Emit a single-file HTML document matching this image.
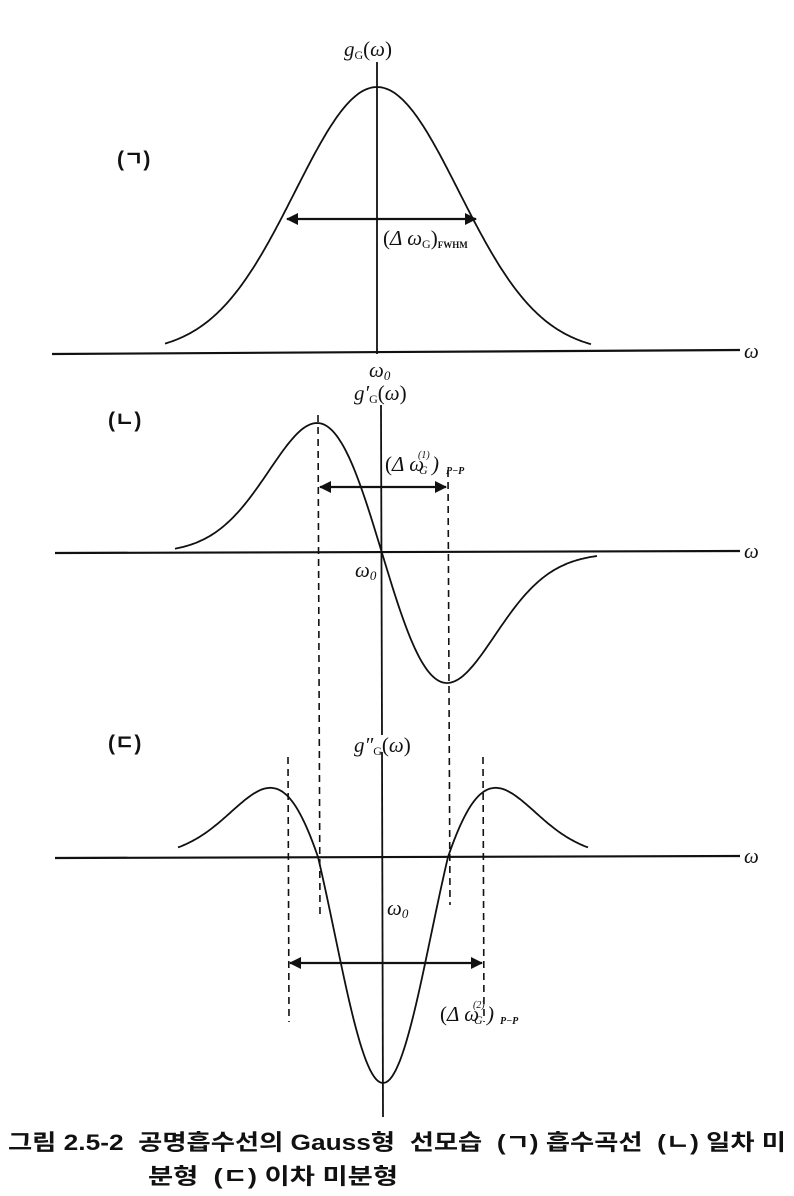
<!DOCTYPE html>
<html><head><meta charset="utf-8"><style>
body{margin:0;background:#fff;width:794px;height:1196px;overflow:hidden}
svg{position:absolute;left:0;top:0}
text{font-family:"Liberation Serif","Noto Serif CJK SC",serif;fill:#111}
.k{font-family:"Liberation Sans","Noto Sans CJK KR",sans-serif;font-weight:bold}
</style></head><body>
<svg width="794" height="1196" viewBox="0 0 794 1196" xmlns="http://www.w3.org/2000/svg">
<defs><marker id="a" markerWidth="12" markerHeight="12" refX="11" refY="6" orient="auto-start-reverse" markerUnits="userSpaceOnUse"><path d="M0,0 L12,6 L0,12Z" fill="#111"/></marker></defs>
<g stroke="#111" fill="none" stroke-width="2.2">
<line x1="52" y1="354" x2="740" y2="350"/>
<line x1="55" y1="553" x2="740" y2="551"/>
<line x1="55" y1="858" x2="740" y2="856"/>
</g>
<g stroke="#111" fill="none" stroke-width="1.8">
<line x1="377" y1="62" x2="377" y2="354"/>
<line x1="381" y1="405" x2="382" y2="735"/>
<line x1="382" y1="752" x2="383" y2="1117"/>
<path id="p1"/><path id="p2"/><path id="p3"/>
</g>
<g stroke="#111" stroke-width="1.6" stroke-dasharray="7,5">
<line x1="318" y1="415" x2="320" y2="915"/>
<line x1="448" y1="470" x2="450" y2="905"/>
<line x1="288" y1="757" x2="289" y2="1022"/>
<line x1="483" y1="757" x2="484" y2="1022"/>
</g>
<g stroke="#111" stroke-width="2.2">
<line x1="287" y1="219" x2="476" y2="219" marker-start="url(#a)" marker-end="url(#a)"/>
<line x1="320" y1="487" x2="446" y2="487" marker-start="url(#a)" marker-end="url(#a)"/>
<line x1="290" y1="963" x2="482" y2="963" marker-start="url(#a)" marker-end="url(#a)"/>
</g>
<g font-style="italic" font-size="21">
<text x="344" y="56">g<tspan font-size="12" font-style="normal" dy="3">G</tspan><tspan dy="-3" font-style="normal">(</tspan>ω<tspan font-style="normal">)</tspan></text>
<text x="354" y="400">g′<tspan font-size="12" font-style="normal" dy="3">G</tspan><tspan dy="-3" font-style="normal">(</tspan>ω<tspan font-style="normal">)</tspan></text>
<text x="354" y="752">g″<tspan font-size="12" font-style="normal" dy="3">G</tspan><tspan dy="-3" font-style="normal">(</tspan>ω<tspan font-style="normal">)</tspan></text>
<text x="744" y="358">ω</text><text x="744" y="558">ω</text><text x="744" y="863">ω</text>
<text x="369" y="377">ω<tspan font-size="13" dy="3">0</tspan></text>
<text x="355" y="577">ω<tspan font-size="13" dy="3">0</tspan></text>
<text x="387" y="915">ω<tspan font-size="13" dy="3">0</tspan></text>
<text x="383" y="245"><tspan font-style="normal">(</tspan>Δ ω<tspan font-size="12" font-style="normal" dy="3">G</tspan><tspan dy="-3" font-style="normal">)</tspan><tspan font-size="9" font-style="normal" font-weight="bold" dy="3">FWHM</tspan></text>
<text x="385" y="471"><tspan font-style="normal">(</tspan>Δ ω</text>
<text x="418" y="458" font-size="10">(1)</text><text x="419" y="474" font-size="12">G</text>
<text x="432" y="471" font-size="21">)</text><text x="446" y="474" font-size="10" font-weight="bold">P−P</text>
<text x="440" y="1021"><tspan font-style="normal">(</tspan>Δ ω</text>
<text x="473" y="1008" font-size="10">(2)</text><text x="474" y="1024" font-size="12">G</text>
<text x="487" y="1021" font-size="21">)</text><text x="500" y="1024" font-size="10" font-weight="bold">P−P</text>
</g>
<g font-size="21">
<text class="k" x="117" y="166">(ㄱ)</text>
<text class="k" x="108" y="427">(ㄴ)</text>
<text class="k" x="108" y="750">(ㄷ)</text>
</g>
<text class="k" x="8" y="1150" font-size="22" textLength="778" lengthAdjust="spacingAndGlyphs" xml:space="preserve">그림 2.5-2  공명흡수선의 Gauss형  선모습  (ㄱ) 흡수곡선  (ㄴ) 일차 미</text>
<text class="k" x="148" y="1184" font-size="22" textLength="250" lengthAdjust="spacingAndGlyphs" xml:space="preserve">분형  (ㄷ) 이차 미분형</text>
</svg>
<script>
function mk(id,x0,x1,f){let d="";for(let x=x0;x<=x1;x+=2){d+=(d?"L":"M")+x.toFixed(1)+","+f(x).toFixed(1);}document.getElementById(id).setAttribute("d",d);}
mk("p1",165,591,x=>{let u=(x-377)/82;return 353-266*Math.exp(-u*u/2);});
mk("p2",175,597,x=>{let u=(x-382)/65;return 553+130/0.6065*u*Math.exp(-u*u/2);});
mk("p3",178,588,x=>{let u=(x-383)/65;let v=(u*u-1)*Math.exp(-u*u/2);return 857-(v>0?v*155:v*226);});
</script>
</body></html>
